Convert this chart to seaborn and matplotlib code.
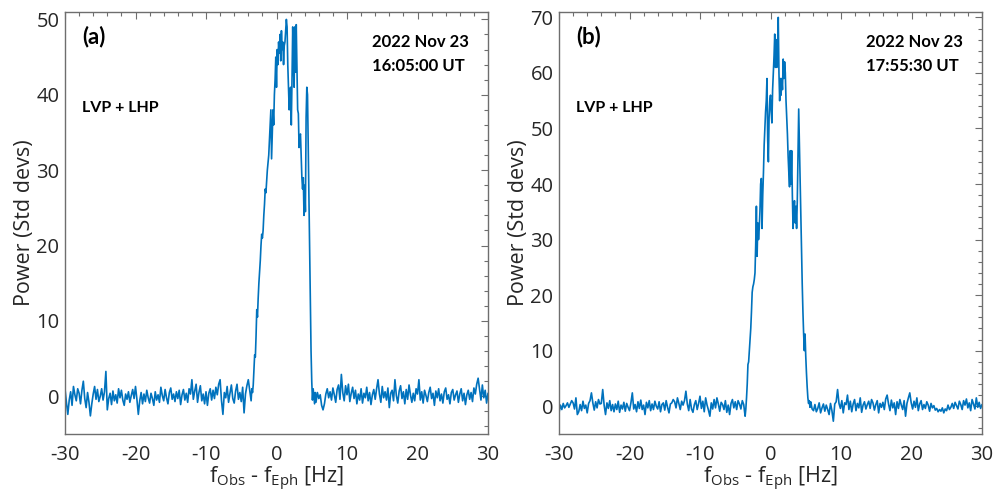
import numpy as np
import pandas as pd
import matplotlib
matplotlib.use("Agg")
import matplotlib.pyplot as plt
import seaborn as sns
from matplotlib.ticker import MultipleLocator

# ---------------- data ----------------
# Panel (a) 2022 Nov 23 16:05:00 UT
a_left_noise = [
    1.0, -0.8, -2.4, -0.5, 0.6, -1.2, 1.3, 0.2, -0.6, 1.0,
    0.4, -1.0, 0.8, 2.0, -0.3, -1.5, 0.5, -0.8, -2.6, -1.0,
    0.3, 1.3, -0.4, 0.9, -0.7, 0.0, 1.0, -0.5, 0.6, 3.3,
    -1.8, -0.3, 0.4, -1.1, 0.7, -0.6, 0.2, -0.9, 1.0, -0.2,
    0.8, -0.5, -1.2, 0.3, -0.4, 0.6, -0.8, 0.1, 0.9, -0.3,
    1.3, -0.4, -2.4, -0.6, 0.5, -1.0, 0.3, -0.7, 0.8, -0.2,
    -0.9, 0.4, -0.3, -1.2, 0.6, -0.5, 0.2, -0.8, 1.2, 0.1,
    -0.6, 0.9, -0.2, -1.0, 0.5, 1.1, -0.4, 0.3, -0.7, 0.6,
    -0.3, 0.8, -1.1, 0.2, 0.9, -0.5, 0.4, -0.8, 1.0, 0.3,
    2.2, -0.4, 0.7, 1.6, -0.8, 0.5, 1.4, -0.6, 0.3, -1.0,
    0.6, -1.2, 0.4, 1.0, -0.5, 0.8, -0.3, 1.2, 0.2, 1.6,
    2.2, -0.6, -2.4, 0.5, -0.2, 1.3, -0.8, 0.4, 1.5, -0.3,
    -0.9, 0.7, 1.6, -0.4, 0.5, -0.7, 1.2, -2.2, 0.3, 1.4,
    2.2, 0.8, -0.6,
]
a_signal = [
    1.0, 0.5, 1.5, 3.5, 5.5, 5.2, 8.0, 11.5, 10.5, 13.0,
    15.0, 16.5, 18.0, 20.0, 21.5, 21.0, 22.0, 24.0, 25.5, 27.5,
    27.0, 28.5, 30.0, 31.0, 32.0, 34.0, 36.0, 38.0, 31.5, 35.0,
    38.0, 36.0, 40.0, 42.0, 45.0, 41.0, 46.0, 44.0, 47.0, 45.5,
    48.0, 44.5, 48.5, 46.0, 47.0, 44.0, 46.5, 47.0, 48.5, 50.0,
    49.0, 44.0, 41.0, 38.0, 40.5, 41.0, 36.0, 42.0, 49.0, 44.0,
    41.0, 49.0, 43.0, 49.3, 44.0, 38.0, 37.5, 33.0, 34.5, 34.8,
    32.0, 29.0, 27.5, 29.0, 24.0, 28.0, 24.5, 37.0, 41.0, 40.0,
    33.0, 26.0, 18.0, 11.0, 6.0, 2.0, -0.5, 1.0, 0.0, -1.0,
    0.5,
]
a_right_noise = [
    -0.8, 0.5, -0.3, 0.2, -1.2, -1.8, -1.0, 0.3, 1.0, -0.2,
    0.6, -0.5, 1.1, 0.2, -0.8, 0.9, 1.5, -0.4, 2.9, 0.5,
    -0.6, 1.4, 0.2, 1.6, -0.7, 0.4, 1.2, -0.3, 0.8, -1.0,
    0.3, -0.5, 1.0, -0.9, 0.4, -0.2, 1.2, -0.6, 0.5, -1.1,
    0.2, 0.9, -0.4, 1.0, 2.2, 0.3, -0.8, 1.3, -0.2, 0.6,
    -0.5, 1.1, -1.5, 0.4, 0.8, -0.6, 2.2, 0.1, -0.9, 0.7,
    1.4, -0.3, 0.6, -1.0, 0.9, -0.4, 1.5, 0.2, -0.8, 0.4,
    -0.6, 1.0, 0.3, 2.2, -0.5, 0.6, -0.9, 0.8, 0.1, -0.7,
    0.5, 1.2, -0.3, 0.4, -1.2, 0.7, -0.2, 1.0, -0.6, 0.3,
    -0.9, 0.6, 1.1, -0.4, 0.2, -1.0, 0.5, 0.9, -0.5, 0.2,
    0.7, -0.8, 0.3, 1.0, -0.6, 0.4, -1.1, 0.2, 0.8, -0.4,
    0.5, -0.7, 1.1, 0.3, 1.6, 2.4, 0.9, -0.5, 1.5, -0.2,
    0.8, -0.9, 0.4,
]

# Panel (b) 2022 Nov 23 17:55:30 UT
b_left_noise = [
    -1.2, 0.2, -0.6, 0.5, -0.3, 0.1, 0.6, -0.2, 0.4, 1.0,
    0.6, -0.5, 1.5, -1.5, -1.0, 0.3, -0.8, 0.9, -0.4, 0.2,
    -1.2, 0.5, 1.0, 2.4, 0.6, -0.7, 0.8, -0.3, 1.2, 0.4,
    0.5, 3.0, 0.2, -1.5, 0.6, -0.4, 1.0, -0.8, 0.3, -1.0,
    0.4, -0.6, 0.9, -1.1, 0.2, -0.5, 0.7, -0.9, 0.5, -0.2,
    -0.8, 0.6, 2.4, -0.5, 0.3, -1.0, 0.8, -0.4, 1.1, -0.6,
    0.2, -1.5, 0.7, -0.3, 1.0, -0.8, 0.4, -0.6, 0.9, 0.0,
    -0.5, 0.8, -1.0, 0.3, 0.6, -0.7, 1.0, -0.2, -1.2, 0.4,
    0.6, 1.2, 0.8, -0.3, 1.5, 0.5, -0.6, 0.9, 0.2, 1.0,
    2.7, 0.4, -0.8, 1.2, -0.5, -1.1, 0.3, 1.0, -0.6, 0.5,
    1.8, -0.4, 0.9, -1.0, 1.5, 0.2, -0.7, -1.8, 0.6, -0.5,
    1.2, -0.3, 1.5, 0.4, -0.9, 0.7, 0.3, -0.6, 1.0, -1.1,
    0.2, -1.5, 0.5, 1.2, -0.3, 0.8, -0.6, 1.0, 0.4, -0.5,
    1.0, 0.3, -1.8,
]
b_signal = [
    -0.5, 1.5, 4.0, 7.5, 8.0, 10.0, 12.0, 14.0, 17.0, 20.5,
    21.5, 22.0, 22.8, 24.0, 29.0, 36.0, 27.0, 33.0, 30.0, 32.0,
    35.0, 40.0, 41.0, 32.0, 38.0, 42.0, 47.0, 50.0, 53.0, 55.0,
    59.0, 48.0, 44.0, 52.0, 55.0, 56.0, 53.0, 51.0, 57.0, 60.0,
    63.0, 67.0, 61.0, 66.0, 61.0, 64.0, 70.0, 60.0, 55.0, 59.0,
    56.0, 59.0, 57.0, 62.5, 59.0, 62.0, 60.0, 55.0, 52.0, 49.0,
    45.0, 42.0, 39.5, 46.0, 40.0, 46.0, 38.0, 32.0, 35.0, 37.0,
    33.0, 36.0, 32.0, 37.0, 45.0, 53.5, 47.0, 40.0, 35.0, 28.0,
    22.0, 17.0, 13.0, 10.0, 13.0, 9.0, 6.0, 3.5, 1.5, 0.5,
    1.0, -0.2, 0.8, 0.2,
]
b_right_noise = [
    -0.5, -0.8, 0.3, -1.0, -0.4, 0.6, -1.2, -0.3, 0.4, -0.9,
    0.2, -0.6, -1.5, 0.5, -0.8, -2.7, 0.4, 0.8, 3.0, 0.5,
    -0.4, 1.0, -1.2, 0.6, 0.3, 2.0, -0.6, 0.9, -1.0, 0.4,
    1.2, -0.8, 0.5, -0.3, 1.5, -1.1, 0.2, 0.8, -0.5, 0.3,
    0.9, -0.4, 1.2, 0.6, -0.7, 0.3, 1.0, -1.2, 0.5, -0.2,
    0.7, -0.6, 1.3, 2.0, 0.4, -0.8, 1.1, -0.3, 0.6, -1.5,
    0.8, -0.4, 1.2, 0.2, -0.6, 1.0, -1.8, 0.5, 1.5, 2.4,
    0.6, -0.5, 0.9, -0.2, 1.5, -0.8, 0.4, 1.0, -0.6, 0.3,
    -0.4, 0.8, 0.2, -0.9, 0.5, -0.3, 0.1, -0.7, -0.4, -1.0,
    -0.6, -0.9, -0.3, -1.2, -0.5, -0.8, 0.2, -0.6, -0.2, 0.5,
    -0.4, 0.7, 0.1, -0.5, 0.9, 0.3, -0.6, 1.0, 0.2, 1.3,
    -0.3, 0.6, -0.8, 1.2, 0.4, -0.5, 1.5, -0.2, 0.7, -0.4,
    0.3,
]

# frequency ranges of each segment [Hz]
a_ranges = [(-30.0, -3.6), (-3.5, 5.5), (5.6, 30.0)]
b_ranges = [(-30.0, -3.6), (-3.5, 5.8), (5.9, 30.0)]

panel_labels = ["(a)", "(b)"]
dates = ["2022 Nov 23\n16:05:00 UT", "2022 Nov 23\n17:55:30 UT"]
pol_text = "LVP + LHP"
ylims = [(-5, 51), (-5, 71)]
xlabel = "f$_{Obs}$ - f$_{Eph}$ [Hz]"
ylabel = "Power (Std devs)"


def build(segments, ranges):
    freqs, powers = [], []
    for seg, (lo, hi) in zip(segments, ranges):
        freqs.append(np.linspace(lo, hi, len(seg)))
        powers.append(np.asarray(seg, dtype=float))
    return pd.DataFrame({"freq": np.concatenate(freqs), "power": np.concatenate(powers)})


df_a = build([a_left_noise, a_signal, a_right_noise], a_ranges)
df_b = build([b_left_noise, b_signal, b_right_noise], b_ranges)

# ---------------- style ----------------
sns.set_style("white")
plt.rcParams["font.family"] = ["Open Sans", "DejaVu Sans"]
plt.rcParams["mathtext.default"] = "regular"
plt.rcParams["axes.unicode_minus"] = False

LINE = "#0072BD"
TXT = "#262626"
SPINE = "#6e6e6e"
BOLD = ["Lato", "DejaVu Sans"]

fig = plt.figure(figsize=(10, 4.94), dpi=100)
ax_a = fig.add_axes([0.065, 0.1215, 0.423, 0.8545])
ax_b = fig.add_axes([0.559, 0.1215, 0.423, 0.8545])

for ax, df, lab, date, yl in zip([ax_a, ax_b], [df_a, df_b], panel_labels, dates, ylims):
    sns.lineplot(data=df, x="freq", y="power", ax=ax, color=LINE, linewidth=1.2,
                 estimator=None, sort=False)
    ax.set_xlim(-30, 30)
    ax.set_ylim(*yl)
    ax.xaxis.set_major_locator(MultipleLocator(10))
    ax.xaxis.set_minor_locator(MultipleLocator(2))
    ax.yaxis.set_major_locator(MultipleLocator(10))
    ax.yaxis.set_minor_locator(MultipleLocator(2))
    ax.tick_params(which="both", direction="in", top=True, right=True,
                   color=SPINE, labelcolor=TXT, labelsize=14.5)
    ax.tick_params(which="major", length=5, width=0.8)
    ax.tick_params(axis="x", which="major", pad=8)
    ax.tick_params(axis="y", which="major", pad=4)
    ax.tick_params(which="minor", length=3, width=0.8)
    for sp in ax.spines.values():
        sp.set_color(SPINE)
        sp.set_linewidth(1.0)
    ax.set_xlabel(xlabel, fontsize=15.5, color=TXT, labelpad=0)
    ax.set_ylabel(ylabel, fontsize=15.5, color=TXT, labelpad=1)
    ax.text(0.04, 0.968, lab, transform=ax.transAxes, fontsize=16,
            fontweight="bold", family=BOLD, va="top", ha="left", color="black")
    ax.text(0.725, 0.948, date, transform=ax.transAxes, fontsize=12,
            fontweight="bold", family=BOLD, va="top", ha="left",
            color="black", linespacing=1.6)
    ax.text(0.04, 0.772, pol_text, transform=ax.transAxes, fontsize=11.5,
            fontweight="bold", family=BOLD, va="center", ha="left", color="black")

fig.savefig("out.png", dpi=100)
